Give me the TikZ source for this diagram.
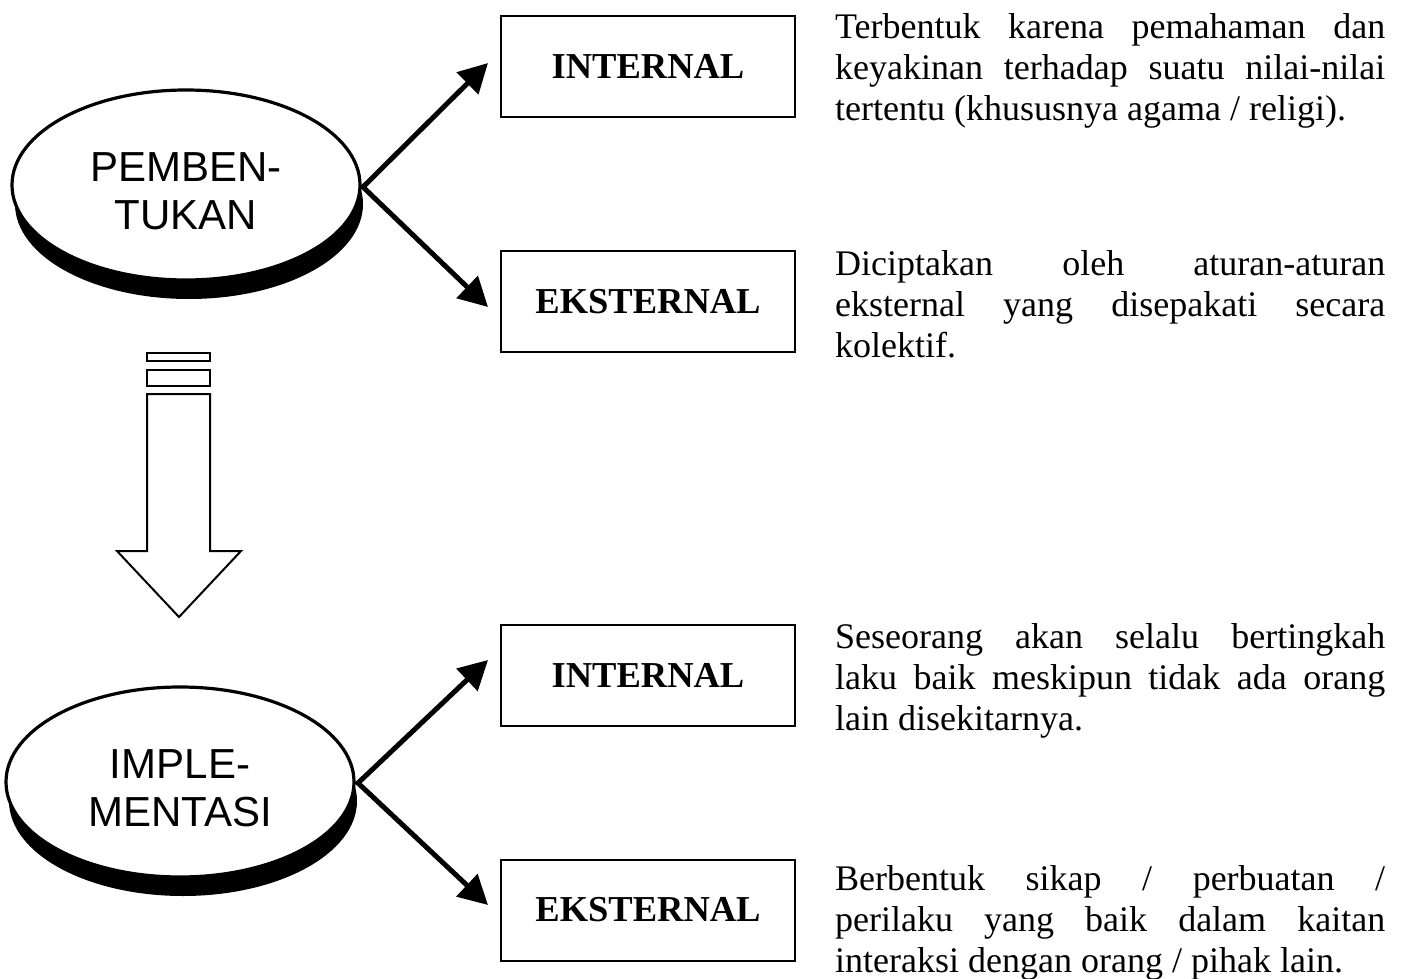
\documentclass[tikz,border=0pt]{standalone}
\usepackage{fontspec}
\setmainfont{Liberation Serif}
\newfontfamily\sansf{Liberation Sans}
\usetikzlibrary{shapes.geometric,shadows,arrows.meta}
\tolerance=10000
\hyphenpenalty=10000
\exhyphenpenalty=10000
\hbadness=10000
\tikzset{
  oval/.style={ellipse, draw, line width=3.2pt, fill=white, minimum width=348pt, minimum height=190pt, inner sep=0pt,
    drop shadow={shadow xshift=3pt, shadow yshift=-19pt, fill=black, opacity=1}},
  ovaltext/.style={align=center, inner sep=0pt, font=\sansf\fontsize{42}{48}\selectfont},
  label box/.style={draw, line width=2pt, minimum width=294pt, minimum height=101pt, inner sep=0pt,
    font=\fontsize{36.5}{41}\selectfont\bfseries},
  para/.style={anchor=base west, inner sep=0pt, text width=550pt, align=justify,
    font=\fontsize{36}{41}\selectfont},
  thickarrow/.style={line width=5pt, line join=miter, {Triangle[length=29pt,width=30pt]}-{Triangle[length=29pt,width=30pt]}},
  hollow/.style={draw, line width=2pt, fill=white, line join=miter}
}
\begin{document}
\begin{tikzpicture}[x=1pt,y=-1pt]
\useasboundingbox (0,0) rectangle (1411,979);
% ovals
\node[oval] (e1) at (186,185) {};
\node[ovaltext] (e1t) at (186,191) {PEMBEN-\\TUKAN};
\node[oval] (e2) at (180,782) {};
\node[ovaltext] (e2t) at (180,788) {IMPLE-\\MENTASI};
% boxes
\node[label box] (b1) at (648,66.5) {INTERNAL};
\node[label box] (b2) at (648,301.5) {EKSTERNAL};
\node[label box] (b3) at (648,675) {INTERNAL};
\node[label box] (b4) at (648,910) {EKSTERNAL};
% paragraphs
\node[para] (t1) at (835,39) {Terbentuk karena pemahaman dan\linebreak keyakinan terhadap suatu nilai-nilai\linebreak tertentu (khususnya agama / religi).};
\node[para] (t2) at (835,275) {Diciptakan oleh aturan-aturan\linebreak eksternal yang disepakati secara\linebreak kolektif.};
\node[para] (t3) at (835,648) {Seseorang akan selalu bertingkah\linebreak laku baik meskipun tidak ada orang\linebreak lain disekitarnya.};
\node[para] (t4) at (835,890) {Berbentuk sikap / perbuatan /\linebreak perilaku yang baik dalam kaitan\linebreak interaksi dengan orang / pihak lain.};
% arrows
\coordinate (v1) at (363,187);
\coordinate (a1) at (488,63);
\coordinate (a2) at (488,307);
\draw[thickarrow] (a1) -- (v1) -- (a2);
\coordinate (v2) at (358,783);
\coordinate (a3) at (488,660);
\coordinate (a4) at (488,905);
\draw[thickarrow] (a3) -- (v2) -- (a4);
% hollow down arrow
\draw[hollow] (147,353) rectangle (210,361);
\draw[hollow] (147,370) rectangle (210,386);
\draw[hollow] (147,394) -- (210,394) -- (210,551) -- (241,551) -- (179,617) -- (117,551) -- (147,551) -- cycle;
\end{tikzpicture}
\end{document}
